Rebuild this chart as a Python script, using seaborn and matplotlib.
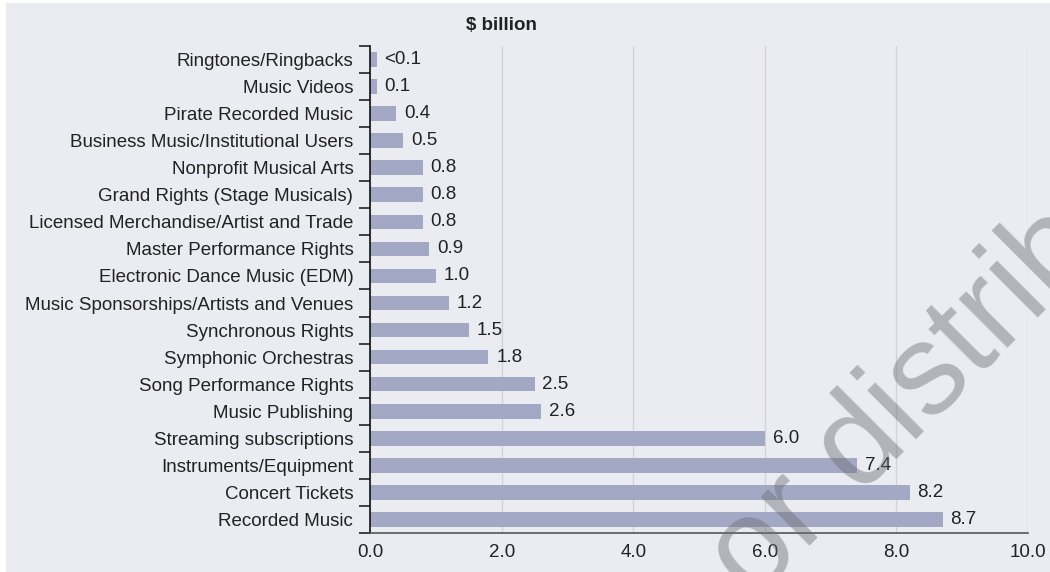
import matplotlib
matplotlib.use("Agg")
import matplotlib.pyplot as plt
import seaborn as sns
import pandas as pd

# Data ($ billion)
categories = [
    "Ringtones/Ringbacks",
    "Music Videos",
    "Pirate Recorded Music",
    "Business Music/Institutional Users",
    "Nonprofit Musical Arts",
    "Grand Rights (Stage Musicals)",
    "Licensed Merchandise/Artist and Trade",
    "Master Performance Rights",
    "Electronic Dance Music (EDM)",
    "Music Sponsorships/Artists and Venues",
    "Synchronous Rights",
    "Symphonic Orchestras",
    "Song Performance Rights",
    "Music Publishing",
    "Streaming subscriptions",
    "Instruments/Equipment",
    "Concert Tickets",
    "Recorded Music",
]
values = [0.1, 0.1, 0.4, 0.5, 0.8, 0.8, 0.8, 0.9, 1.0, 1.2, 1.5, 1.8, 2.5, 2.6, 6.0, 7.4, 8.2, 8.7]
value_labels = ["<0.1", "0.1", "0.4", "0.5", "0.8", "0.8", "0.8", "0.9", "1.0",
                "1.2", "1.5", "1.8", "2.5", "2.6", "6.0", "7.4", "8.2", "8.7"]
x_ticks = [0, 2, 4, 6, 8, 10]

BG = "#ebebf2"
BAR = "#a3a8c5"
TEXT = "#222222"
FS = 13.5

sns.set_theme(style="white")
plt.rcParams["font.family"] = ["Liberation Sans", "DejaVu Sans"]

df = pd.DataFrame({"category": categories, "value": values})

fig = plt.figure(figsize=(10.5, 5.72), dpi=100, facecolor="white")
# background panel (thin white frame at top/left as in the reference)
fig.patches.append(plt.Rectangle((6 / 1050, 0), 1, 1 - 3 / 572, transform=fig.transFigure,
                                 facecolor=BG, edgecolor="none", zorder=-10))

ax = fig.add_axes([0.3524, 0.0682, 0.6267, 0.8514])
ax.set_facecolor(BG)

sns.barplot(data=df, x="value", y="category", orient="h", color=BAR,
            saturation=1, width=0.54, linewidth=0, edgecolor="none", ax=ax)

ax.set_xlim(0, 10)
ax.set_ylim(len(categories) - 0.5, -0.5)
ax.set_xlabel("")
ax.set_ylabel("")

# value labels
for i, (v, lab) in enumerate(zip(values, value_labels)):
    ax.text(v + 0.12, i, lab, va="center", ha="left", fontsize=FS, color=TEXT)

# x axis
ax.set_xticks(x_ticks)
ax.set_xticklabels([f"{t:.1f}" for t in x_ticks], fontsize=FS, color=TEXT)
ax.tick_params(axis="x", length=0, pad=8)
ax.grid(axis="x", color="#d2d2d8", linewidth=1)
ax.grid(axis="y", visible=False)
ax.set_axisbelow(True)

# y axis: labels at centers, tick marks at category boundaries
ax.set_yticks(range(len(categories)))
ax.set_yticklabels(categories, fontsize=FS, color=TEXT)
ax.set_yticks([i - 0.5 for i in range(len(categories) + 1)], minor=True)
ax.tick_params(axis="y", which="major", left=False, length=0, pad=12)
ax.tick_params(axis="y", which="minor", left=True, length=8, width=1.1,
               color="#111111", direction="out")

for s in ["top", "right"]:
    ax.spines[s].set_visible(False)
ax.spines["left"].set_color("#111111")
ax.spines["left"].set_linewidth(1.2)
ax.spines["bottom"].set_color("#555555")
ax.spines["bottom"].set_linewidth(1.2)

fig.text(0.478, 0.956, "$ billion", ha="center", va="center",
         fontsize=FS, fontweight="bold", color=TEXT)

# faint watermark seen across the reference
fig.text(0.717, -0.052, "or distribute", rotation=45, rotation_mode="anchor",
         ha="left", va="baseline", fontsize=93, color="#6e6e76", alpha=0.45, zorder=10)

fig.savefig("out.png", dpi=100, facecolor=fig.get_facecolor())
